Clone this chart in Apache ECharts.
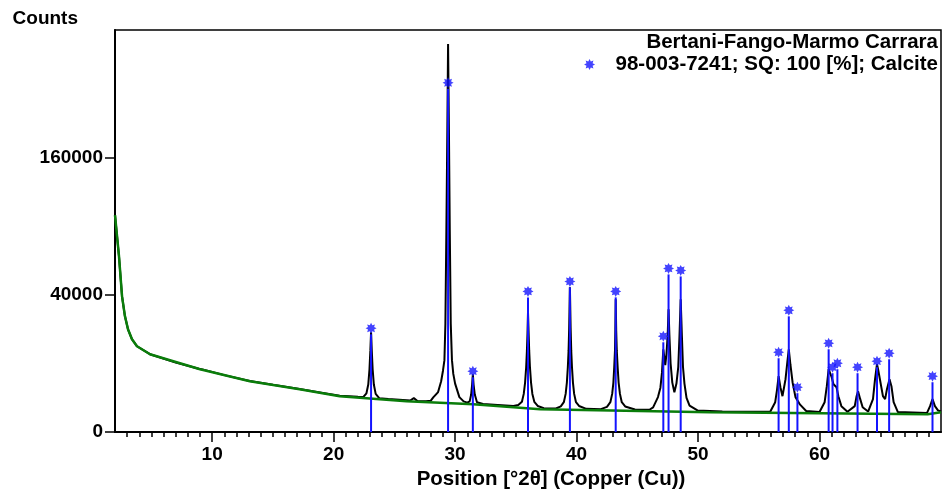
<!DOCTYPE html>
<html>
<head>
<meta charset="utf-8">
<script src="https://cdn.jsdelivr.net/npm/echarts@6/dist/echarts.min.js"></script>
<style>
  html, body { margin: 0; padding: 0; background: #fff; }
  #main { width: 943px; height: 495px; }
</style>
</head>
<body>
<div id="main"></div>
<script>
// measured pattern [2theta, counts]
var observedPattern = [
    [2.0, 100000], [2.33, 65500], [2.58, 39100], [2.82, 28470], [3.07, 22450], [3.4, 18300],
    [3.81, 15650], [4.88, 12880],
    [7.0, 10300], [8.9, 8500], [9.05, 8800], [9.2, 8350], [11.0, 6900], [13.1, 5550], [15.0, 4750], [17.2, 3950],
    [19.0, 3300], [20.5, 2800], [22.0, 2650],
    [22.45, 2620], [22.7, 3200], [22.85, 4800], [22.95, 8400], [23.02, 14000], [23.08, 21150],
    [23.14, 14000], [23.21, 8400], [23.31, 4800], [23.46, 3100], [23.75, 2450],
    [24.5, 2330], [26.3, 2120], [26.6, 2450], [26.9, 2060], [27.6, 2010],
    [28.0, 2100], [28.2, 2550], [28.35, 2400], [28.6, 3400], [28.85, 5500], [29.0, 8000],
    [29.12, 11000], [29.2, 25000], [29.28, 87000], [29.36, 194000], [29.42, 320000],
    [29.49, 194000], [29.56, 87000], [29.64, 25000], [29.74, 11000], [29.85, 7200],
    [30.0, 5000], [30.35, 2600], [30.7, 2000], [31.0, 1850],
    [31.2, 2000], [31.32, 3000], [31.4, 4800], [31.46, 7120], [31.52, 4800], [31.62, 3000],
    [31.8, 1900], [32.3, 1680], [33.5, 1560], [34.8, 1440],
    [35.2, 1550], [35.5, 1950], [35.65, 3100], [35.76, 5200], [35.85, 9000], [35.91, 14000],
    [35.96, 21000], [36.0, 30460], [36.05, 21000], [36.1, 14000], [36.16, 9000], [36.25, 5200],
    [36.36, 3100], [36.52, 1950], [36.8, 1450], [37.3, 1220], [38.3, 1180],
    [38.7, 1400], [38.95, 1900], [39.1, 3100], [39.2, 5200], [39.28, 9000], [39.34, 14000],
    [39.39, 23000], [39.45, 44480], [39.51, 23000], [39.56, 14000], [39.62, 9000], [39.7, 5200],
    [39.8, 3100], [39.95, 1900], [40.2, 1450], [40.8, 1150], [42.0, 1120],
    [42.5, 1350], [42.78, 1900], [42.93, 3100], [43.03, 5200], [43.1, 9000], [43.16, 14000],
    [43.19, 22000], [43.22, 37430], [43.26, 22000], [43.31, 14000], [43.38, 9000], [43.46, 5200],
    [43.57, 3100], [43.72, 1900], [44.0, 1400], [44.8, 1080], [46.0, 1060],
    [46.3, 1300], [46.7, 2600], [46.9, 4200], [47.03, 7500], [47.14, 14570], [47.3, 9500],
    [47.4, 13000], [47.5, 20000], [47.57, 32000], [47.64, 20000], [47.74, 10000], [47.88, 5200],
    [48.05, 3385], [48.22, 5000], [48.37, 9000], [48.47, 19500], [48.57, 37430], [48.67, 19500],
    [48.76, 9000], [48.88, 5000], [49.05, 2500], [49.3, 1500], [49.95, 1000], [52.0, 900],
    [54.0, 880], [55.5, 870],
    [55.95, 900], [56.35, 1900], [56.5, 3800], [56.63, 6634], [56.78, 4285], [56.95, 2742],
    [57.2, 5943], [57.35, 10370], [57.47, 14570], [57.6, 9780], [57.78, 5290], [58.02, 2600],
    [58.18, 2742], [58.4, 1600], [58.9, 950], [60.0, 860],
    [60.42, 1900], [60.6, 4476], [60.75, 8400], [60.9, 7120], [61.0, 6400], [61.15, 4870],
    [61.4, 4285], [61.55, 2742], [61.8, 1430], [62.3, 880],
    [62.9, 1430], [63.05, 2742], [63.17, 3556], [63.35, 2304], [63.55, 1320], [64.0, 900],
    [64.4, 2304], [64.57, 5943], [64.73, 9780], [64.82, 8400], [64.97, 5943], [65.22, 2742],
    [65.4, 2304], [65.55, 3910], [65.76, 5943], [65.92, 4476], [66.1, 1900], [66.45, 850],
    [68.85, 780], [69.1, 1430], [69.3, 2304], [69.5, 1430], [69.75, 1000], [70.0, 900]
];

// fitted background
var backgroundCurve = [
    [2.0, 100000], [2.33, 65500], [2.58, 39100], [2.82, 28470], [3.07, 22450], [3.4, 18300],
    [3.81, 15650], [4.88, 12880],
    [9.0, 8400], [13.1, 5500], [17.2, 3910], [20.5, 2740], [26.0, 2030], [31.5, 1660],
    [37.0, 1120], [51.0, 846], [68.9, 685], [70.0, 846]
];

// reference pattern 98-003-7241 (Calcite)
var calcitePos = [23.08, 29.42, 31.46, 36.0, 39.45, 43.22, 47.14, 47.57, 48.57, 56.63,
    57.47, 58.18, 60.75, 61.07, 61.47, 63.13, 64.73, 65.73, 69.3];
var calciteCounts = [22880, 259200, 7870, 42060, 48240, 42060, 19500, 56900, 55520, 13540,
    31490, 4285, 16760, 8940, 10070, 8940, 10670, 13200, 6630];

var majorTicks = [10, 20, 30, 40, 50, 60];

var sampleName = 'Bertani-Fango-Marmo Carrara';
var refName = '98-003-7241; SQ: 100 [%]; Calcite';

var STAR = 'path://M20,10 L15.54,12.3 L17.07,17.07 L12.3,15.54 L10,20 L7.7,15.54 L2.93,17.07 L4.46,12.3 L0,10 L4.46,7.7 L2.93,2.93 L7.7,4.46 L10,0 L12.3,4.46 L17.07,2.93 L15.54,7.7 Z';

var FONT = '"Liberation Sans", Arial, sans-serif';

// square-root intensity axis
function sq(p) { return [p[0], Math.sqrt(p[1])]; }

var sticks = calcitePos.map(function (x, i) { return [x, Math.sqrt(calciteCounts[i])]; });

var myChart = echarts.init(document.getElementById('main'));

var option = {
    animation: false,
    backgroundColor: '#fff',
    textStyle: { fontFamily: FONT },
    grid: {
        left: 115, right: 2, top: 30, bottom: 62,
        show: true, borderColor: '#000', borderWidth: 1.5
    },
    title: {
        text: sampleName,
        right: 5, top: 32, padding: 0,
        textStyle: { fontFamily: FONT, fontSize: 20.5, fontWeight: 'bold', color: '#000' }
    },
    legend: {
        right: 5, top: 54, padding: 0,
        itemWidth: 42, itemHeight: 11, itemGap: 0,
        data: [{ name: refName, icon: STAR }],
        textStyle: { fontFamily: FONT, fontSize: 20.5, fontWeight: 'bold', color: '#000', padding: 0 }
    },
    xAxis: [
        {
            type: 'value', min: 2, max: 70, interval: 1,
            name: 'Position [°2θ] (Copper (Cu))',
            nameLocation: 'middle', nameGap: 28,
            nameTextStyle: { fontFamily: FONT, fontSize: 20.5, fontWeight: 'bold', color: '#000', padding: [0, 0, 0, 46] },
            axisLine: { show: true, lineStyle: { color: '#000', width: 2 } },
            axisTick: { show: true, length: 5, lineStyle: { color: '#000', width: 1.5 } },
            axisLabel: {
                margin: 13, fontFamily: FONT, fontSize: 19, fontWeight: 'bold', color: '#000',
                showMinLabel: false, showMaxLabel: false,
                formatter: function (v) { return majorTicks.indexOf(v) >= 0 ? String(v) : ''; }
            },
            splitLine: { show: false }
        },
        {
            type: 'value', min: 2, max: 70, position: 'bottom',
            axisLine: { show: false },
            axisTick: { show: true, customValues: majorTicks, length: 10, lineStyle: { color: '#000', width: 1.5 } },
            axisLabel: { show: false },
            splitLine: { show: false }
        }
    ],
    yAxis: {
        type: 'value', min: 0, max: 586, interval: 200,
        name: 'Counts', nameLocation: 'end', nameGap: 2,
        nameTextStyle: { fontFamily: FONT, fontSize: 19, fontWeight: 'bold', color: '#000', align: 'right', padding: [0, 37, 0, 0] },
        axisLine: { show: true, lineStyle: { color: '#000', width: 2 } },
        axisTick: { show: true, length: 10, lineStyle: { color: '#000', width: 1.5 } },
        axisLabel: {
            margin: 12, fontFamily: FONT, fontSize: 19, fontWeight: 'bold', color: '#000',
            showMaxLabel: false,
            formatter: function (v) { return String(Math.round(v * v)); }
        },
        splitLine: { show: false }
    },
    series: [
        {
            name: 'observed', type: 'line',
            data: observedPattern.map(sq),
            showSymbol: false, symbol: 'none',
            lineStyle: { color: '#000', width: 2 },
            z: 2
        },
        {
            name: 'background', type: 'line',
            data: backgroundCurve.map(sq),
            showSymbol: false, symbol: 'none',
            lineStyle: { color: '#0a7d0a', width: 2.5 },
            z: 3
        },
        {
            name: 'sticks', type: 'custom',
            data: sticks,
            encode: { x: 0, y: 1 },
            renderItem: function (params, api) {
                var b = api.coord([api.value(0), 0]);
                var t = api.coord([api.value(0), api.value(1)]);
                return {
                    type: 'line',
                    shape: { x1: b[0], y1: b[1], x2: t[0], y2: t[1] + 6 },
                    style: { stroke: '#1414ff', lineWidth: 2 }
                };
            },
            z: 4
        },
        {
            name: refName, type: 'scatter',
            data: sticks,
            symbol: STAR, symbolSize: 11,
            itemStyle: { color: '#1414ff' },
            z: 5
        }
    ]
};

myChart.setOption(option);
</script>
</body>
</html>
